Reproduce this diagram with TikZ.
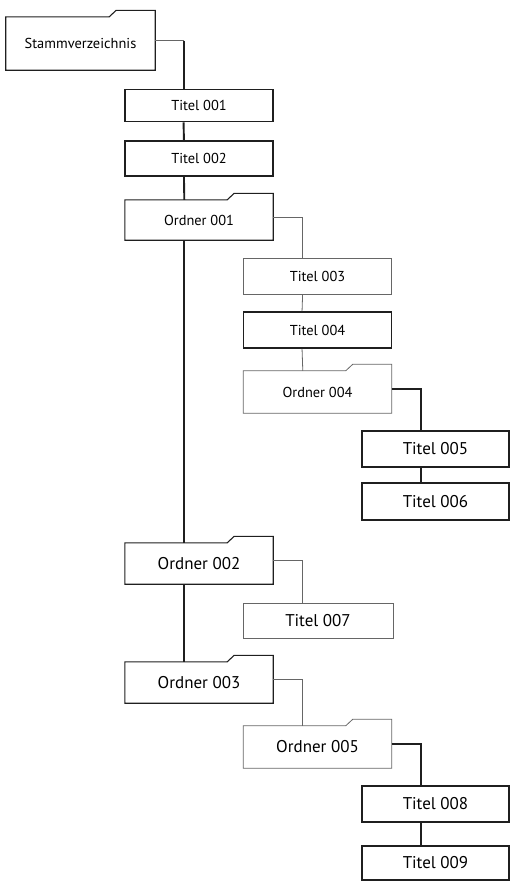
\documentclass[tikz,border=0pt]{standalone}
\usepackage{fontspec}
\setmainfont{PT Sans}
\usetikzlibrary{calc}

\newcommand{\smalltext}{\fontsize{14.4bp}{16bp}\selectfont}
\newcommand{\largetext}{\fontsize{17bp}{19bp}\selectfont}
\colorlet{linegray}{black!60}
\colorlet{linedark}{black!88}

\tikzset{
  entry/.style={rectangle, minimum width=148bp, inner sep=0pt, font=\smalltext},
  big/.style={font=\largetext},
  heavy/.style={draw=linedark, line width=1.9bp},
  medium/.style={draw=linedark, line width=1.1bp},
  light/.style={draw=linegray, line width=0.8bp},
}

\begin{document}
\begin{tikzpicture}[x=1bp,y=-1bp]
  \useasboundingbox (0,0) rectangle (515,882);

  % root folder and its first level
  \node[entry, minimum width=149bp, minimum height=53bp] (root) at (80.5,43.5) {Stammverzeichnis};
  \node[entry, heavy,  minimum height=32bp] (t001) at (199,105.5) {Titel 001};
  \node[entry, medium, minimum height=35bp] (t002) at (199,158.5) {Titel 002};
  \node[entry, minimum height=40bp] (o001) at (199,220) {Ordner 001};
  \node[entry, big, minimum height=41bp] (o002) at (199,563.5) {Ordner 002};
  \node[entry, big, minimum height=41bp] (o003) at (199,682.5) {Ordner 003};

  % contents of Ordner 001
  \node[entry, light, minimum height=36bp] (t003) at (317.5,276) {Titel 003};
  \node[entry, heavy, minimum height=36bp] (t004) at (317.5,330) {Titel 004};
  \node[entry, minimum height=42bp] (o004) at (317.5,392) {Ordner 004};
  \node[entry, big, heavy, minimum width=147bp, minimum height=36bp] (t005) at (435.5,449) {Titel 005};
  \node[entry, big, heavy, minimum width=147bp, minimum height=37bp] (t006) at (435.5,501.5) {Titel 006};

  % contents of Ordner 002 and 003
  \node[entry, big, light, minimum width=150bp, minimum height=35bp] (t007) at (318,620.5) {Titel 007};
  \node[entry, big, minimum height=42bp] (o005) at (317.5,747) {Ordner 005};
  \node[entry, big, heavy, minimum width=147bp, minimum height=36bp] (t008) at (435.5,804) {Titel 008};
  \node[entry, big, heavy, minimum width=147bp, minimum height=34bp] (t009) at (435.5,863) {Titel 009};

  % folder outlines with tab
  \foreach \n/\s in {root/medium, o001/medium, o002/medium, o003/medium, o004/light, o005/light}
    \draw[\s] (\n.south west) |- ([xshift=-46bp]\n.north east) -- ++(7bp,6.5bp)
      -- ([yshift=6.5bp]\n.north east) -- (\n.south east) -- cycle;

  % connectors
  \draw[light] ([yshift=3bp]root.east) -| ([xshift=59.5bp]t001.north west);
  \draw[heavy] ([xshift=59.5bp,yshift=3bp]t001.north west |- root.east) -- ([xshift=59.5bp]t001.north west);
  \foreach \a/\b/\s in {o001/t003/light, o004/t005/heavy, o002/t007/light, o003/o005/light, o005/t008/heavy}
    \draw[\s] ([yshift=3bp]\a.east) -| ([xshift=59.5bp]\b.north west);
  \foreach \a/\b/\s in {t001/t002/heavy, t002/o001/heavy, o001/o002/heavy, o002/o003/heavy,
                         t003/t004/light, t004/o004/light, t005/t006/heavy, t008/t009/heavy}
    \draw[\s] ([xshift=59.5bp]\a.south west) -- ([xshift=59.5bp]\b.north west);
\end{tikzpicture}
\end{document}
